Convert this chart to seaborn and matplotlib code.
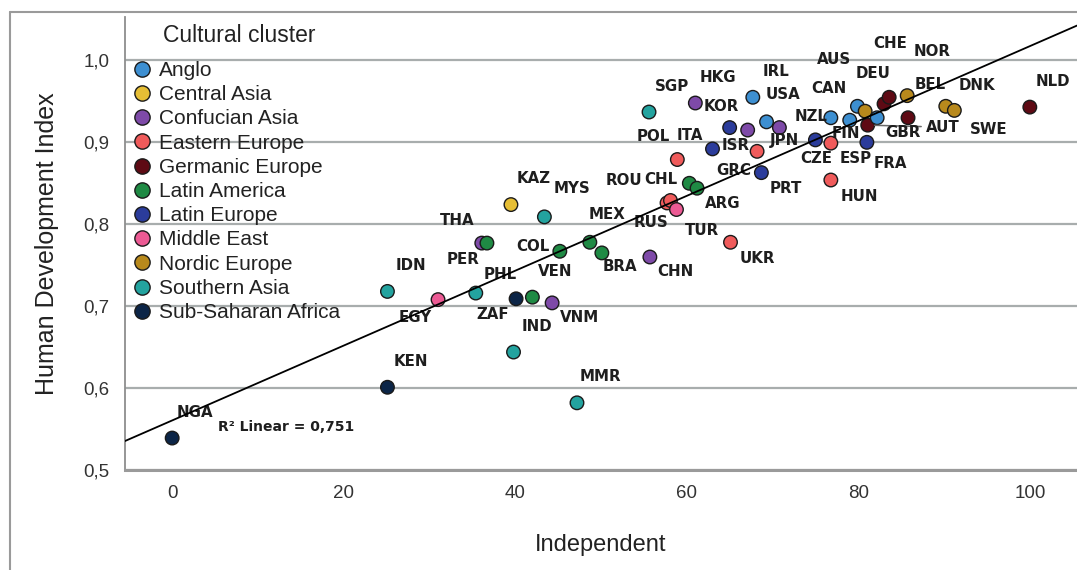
import numpy as np
import pandas as pd
import matplotlib
matplotlib.use("Agg")
import matplotlib.pyplot as plt
from matplotlib.lines import Line2D
import seaborn as sns

# ---- data -------------------------------------------------------------
countries = ["NGA", "KEN", "ZAF", "IDN", "EGY", "PHL", "THA", "PER", "KAZ", "IND",
             "VEN", "VNM", "MYS", "COL", "MEX", "BRA", "MMR", "CHN", "ROU", "RUS",
             "TUR", "CHL", "ARG", "POL", "SGP", "HKG", "ISR", "ITA", "KOR", "IRL",
             "GRC", "PRT", "USA", "JPN", "ESP", "CZE", "HUN", "NZL", "CAN", "AUS",
             "FIN", "AUT", "FRA", "GBR", "DEU", "CHE", "NOR", "BEL", "DNK", "SWE",
             "NLD", "UKR"]
independent = [0.0, 25.1, 40.1, 25.1, 31.0, 35.4, 36.1, 36.7, 39.5, 39.8,
               42.0, 44.3, 43.4, 45.2, 48.7, 50.1, 47.2, 55.7, 57.7, 58.1,
               58.8, 60.3, 61.2, 58.9, 55.6, 61.0, 63.0, 65.0, 67.1, 67.7,
               68.2, 68.7, 69.3, 70.8, 75.0, 76.8, 76.8, 76.8, 79.0, 79.9,
               80.8, 81.1, 81.0, 82.2, 83.0, 83.6, 85.7, 85.8, 90.2, 91.2,
               100.0, 65.1]
hdi = [0.539, 0.601, 0.709, 0.718, 0.708, 0.716, 0.777, 0.777, 0.824, 0.644,
       0.711, 0.704, 0.809, 0.767, 0.778, 0.765, 0.582, 0.760, 0.826, 0.829,
       0.818, 0.850, 0.844, 0.879, 0.937, 0.948, 0.892, 0.918, 0.915, 0.955,
       0.889, 0.863, 0.925, 0.918, 0.903, 0.899, 0.854, 0.930, 0.927, 0.944,
       0.938, 0.921, 0.900, 0.930, 0.947, 0.955, 0.957, 0.930, 0.944, 0.939,
       0.943, 0.778]
cluster = ["Sub-Saharan Africa", "Sub-Saharan Africa", "Sub-Saharan Africa",
           "Southern Asia", "Middle East", "Southern Asia", "Confucian Asia",
           "Latin America", "Central Asia", "Southern Asia",
           "Latin America", "Confucian Asia", "Southern Asia", "Latin America",
           "Latin America", "Latin America", "Southern Asia", "Confucian Asia",
           "Eastern Europe", "Eastern Europe",
           "Middle East", "Latin America", "Latin America", "Eastern Europe",
           "Southern Asia", "Confucian Asia", "Latin Europe", "Latin Europe",
           "Confucian Asia", "Anglo",
           "Eastern Europe", "Latin Europe", "Anglo", "Confucian Asia",
           "Latin Europe", "Eastern Europe", "Eastern Europe", "Anglo", "Anglo",
           "Anglo",
           "Nordic Europe", "Germanic Europe", "Latin Europe", "Anglo",
           "Germanic Europe", "Germanic Europe", "Nordic Europe",
           "Germanic Europe", "Nordic Europe", "Nordic Europe",
           "Germanic Europe", "Eastern Europe"]

cluster_order = ["Anglo", "Central Asia", "Confucian Asia", "Eastern Europe",
                 "Germanic Europe", "Latin America", "Latin Europe",
                 "Middle East", "Nordic Europe", "Southern Asia",
                 "Sub-Saharan Africa"]
cluster_colors = ["#3d8fd1", "#e6be35", "#7e4aa8", "#f05b5b", "#5e0a14",
                  "#1f8a44", "#2b3c9b", "#ec5a94", "#b8891c", "#23a39f",
                  "#0c2547"]

x_ticks = [0, 20, 40, 60, 80, 100]
y_ticks = [0.5, 0.6, 0.7, 0.8, 0.9, 1.0]
y_tick_labels = ["0,5", "0,6", "0,7", "0,8", "0,9", "1,0"]
r2_text = "R² Linear = 0,751"
legend_title = "Cultural cluster"

# label offsets from each point, in screen pixels (right, down)
default_offset = (23, -26)
label_offsets = {
    "ZAF": (-23, 16), "EGY": (-23, 18), "PHL": (24, -19), "THA": (-25, -23),
    "PER": (-24, 16), "VNM": (27, 15), "MYS": (28, -28), "COL": (-27, -5),
    "MEX": (17, -28), "BRA": (18, 14), "CHN": (25, 14), "ROU": (-43, -22),
    "CHL": (-29, -4), "RUS": (-19, 22), "TUR": (26, 21), "ARG": (26, 15),
    "POL": (-24, -23), "ISR": (23, -3), "ITA": (-40, 8), "KOR": (-26, -24),
    "GRC": (-23, 19), "PRT": (24, 16), "USA": (16, -27), "JPN": (5, 13),
    "ESP": (40, 19), "FRA": (24, 21), "CZE": (-15, 15), "HUN": (29, 16),
    "NZL": (-20, -1), "CAN": (-21, -32), "AUS": (-23, -47), "FIN": (-19, 22),
    "AUT": (75, 2), "GBR": (26, 15), "DEU": (-11, -30), "CHE": (1, -54),
    "NOR": (25, -44), "BEL": (22, -33), "DNK": (31, -21), "SWE": (34, 19),
    "UKR": (27, 16),
}
leader_labels = {"AUT"}

df = pd.DataFrame({"code": countries, "Independent": independent,
                   "HDI": hdi, "cluster": cluster})
palette = dict(zip(cluster_order, cluster_colors))

# ---- figure -----------------------------------------------------------
sns.set_theme(style="white")
plt.rcParams["font.family"] = ["Liberation Sans", "DejaVu Sans"]

W, H = 1077, 570
fig = plt.figure(figsize=(W / 100, H / 100), dpi=100)
fig.patch.set_facecolor("white")
ax = fig.add_axes([125 / W, 1 - 470 / H, 1 - 125 / W, (470 - 17) / H])

xlim = (-5.5, 105.5)
ylim = (0.5, 1.053)
ax.set_xlim(*xlim)
ax.set_ylim(*ylim)

ax.set_yticks(y_ticks)
ax.set_yticklabels(y_tick_labels)
ax.set_xticks(x_ticks)
ax.yaxis.grid(True, color="#a8adad", lw=1.6)
ax.xaxis.grid(False)
ax.set_axisbelow(True)

for side in ("top", "right"):
    ax.spines[side].set_visible(False)
ax.spines["left"].set_color("#8e8e8e")
ax.spines["left"].set_linewidth(1.3)
ax.spines["bottom"].set_color("#9a9a9a")
ax.spines["bottom"].set_linewidth(2.2)

ax.tick_params(axis="y", length=3, color="#8e8e8e", pad=8,
               labelsize=13.5, labelcolor="#333333")
ax.tick_params(axis="x", length=0, pad=11, labelsize=13.5,
               labelcolor="#333333")

sns.scatterplot(data=df, x="Independent", y="HDI", hue="cluster",
                hue_order=cluster_order, palette=palette, s=95,
                edgecolor="#1a1a1a", linewidth=1.0, legend=False,
                zorder=3, ax=ax)

sns.regplot(data=df, x="Independent", y="HDI", scatter=False, ci=None,
            truncate=False, color="black",
            line_kws=dict(lw=1.3, zorder=6), ax=ax)
ax.set_xlim(*xlim)
ax.set_ylim(*ylim)

px2pt = 72 / 100
for code, xv, yv in zip(countries, independent, hdi):
    dx, dy = label_offsets.get(code, default_offset)
    kw = {}
    if code in leader_labels:
        kw["arrowprops"] = dict(arrowstyle="-", color="#6a6a6a", lw=1.1,
                                shrinkA=1, shrinkB=5)
    ax.annotate(code, xy=(xv, yv), xytext=(dx * px2pt, -dy * px2pt),
                textcoords="offset points", ha="center", va="center",
                fontsize=10.8, fontweight="bold", color="#1e1e1e",
                family=["DejaVu Sans"], zorder=4, **kw)

ax.text(5.4, 0.5525, r2_text, fontsize=10, fontweight="bold",
        color="#1e1e1e", family=["DejaVu Sans"], ha="left", va="center",
        zorder=5)

ax.set_xlabel("Independent", fontsize=17, color="#222222", labelpad=23)
ax.set_ylabel("Human Development Index", fontsize=18, color="#222222",
              labelpad=18)

handles = [Line2D([], [], marker="o", linestyle="none", markersize=11,
                  markerfacecolor=c, markeredgecolor="#1a1a1a",
                  markeredgewidth=1.0) for c in cluster_colors]
leg = ax.legend(handles, cluster_order, loc="upper left",
                bbox_to_anchor=(132 / W, 1 - 61 / H),
                bbox_transform=fig.transFigure, frameon=False,
                fontsize=15, handlelength=1.0, handletextpad=0.3,
                labelspacing=0.25, borderpad=0, borderaxespad=0)
for t in leg.get_texts():
    t.set_color("#222222")
leg.set_zorder(2)
fig.text(239 / W, 1 - 35 / H, legend_title, fontsize=16.5, color="#222222",
         ha="center", va="center")

# outer chart frame
fig.add_artist(Line2D([10 / W, 10 / W], [0, 1 - 12 / H],
                      transform=fig.transFigure, color="#9a9a9a", lw=1.5))
fig.add_artist(Line2D([10 / W, 1], [1 - 12 / H, 1 - 12 / H],
                      transform=fig.transFigure, color="#9a9a9a", lw=1.5))

fig.savefig("out.png", dpi=100, facecolor="white")
